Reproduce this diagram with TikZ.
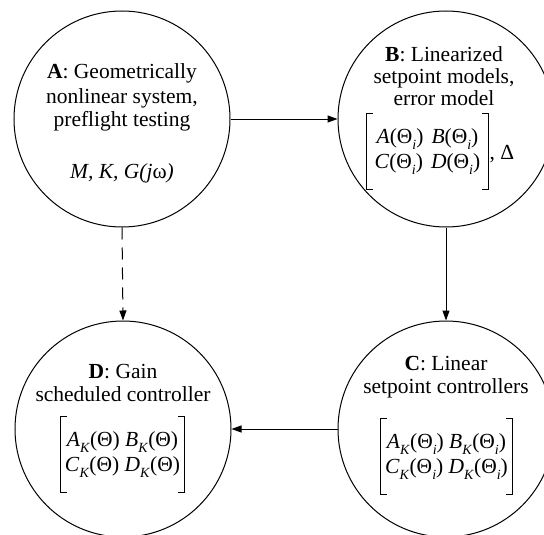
\documentclass[tikz,border=0pt]{standalone}
\usepackage{fontspec}
\setmainfont{Liberation Serif}
\usetikzlibrary{arrows.meta}
\newcommand\sbx[1]{\raisebox{-0.28em}{\fontsize{14}{14}\selectfont\textit{#1}}}
\begin{document}
\begin{tikzpicture}[x=1pt,y=-1pt,
  every node/.style={font=\fontsize{21.5}{24}\selectfont, inner sep=0pt},
  stage/.style={circle, draw, line width=1pt, minimum size=216pt, inner sep=0pt},
  txt/.style={anchor=base, inner sep=0pt},
  mat/.style={align=center, inner xsep=4pt, inner ysep=0pt, minimum height=76pt,
              font=\fontsize{21.5}{25}\selectfont},
  brk/.style={line width=0.9pt},
  flow/.style={line width=1pt, -{Triangle[length=10pt,width=7pt]}},
  dflow/.style={flow, dash pattern=on 12pt off 8pt}]
\useasboundingbox (0,0) rectangle (544,535);
\clip (0,0) rectangle (544,535);

% circles
\node[stage] (A) at (122,119) {};
\node[stage] (B) at (446,119) {};
\node[stage] (D) at (123,429) {};
\node[stage] (C) at (446,429) {};

% A text
\node[txt] (a1) at (122,79) {\textbf{A}: Geometrically};
\node[txt] (a2) at (122,103) {nonlinear system,};
\node[txt] (a3) at (122,127) {preflight testing};
\node[txt] (a4) at (122,178) {\textit{M, K, G(j}ω\textit{)}};

% B text
\node[txt] (b1) at (444,62) {\textbf{B}: Linearized};
\node[txt] (b2) at (444,84) {setpoint models,};
\node[txt] (b3) at (444,106) {error model};
\node[mat, inner xsep=8pt] (mB) at (427.5,151.5) {\textit{A}(Θ\sbx{i})\hspace{8pt}\textit{B}(Θ\sbx{i})\\\textit{C}(Θ\sbx{i})\hspace{8pt}\textit{D}(Θ\sbx{i})};
\node[anchor=west, xshift=1pt, yshift=-3pt] (dB) at (mB.east) {, Δ};

% D text
\node[txt] (d1) at (123,378) {\textbf{D}: Gain};
\node[txt] (d2) at (123,401) {scheduled controller};
\node[mat] (mD) at (122.5,454.5) {\textit{A}\sbx{K}(Θ) \textit{B}\sbx{K}(Θ)\\\textit{C}\sbx{K}(Θ) \textit{D}\sbx{K}(Θ)};

% C text
\node[txt] (c1) at (446,370) {\textbf{C}: Linear};
\node[txt] (c2) at (446,393) {setpoint controllers};
\node[mat] (mC) at (446.5,456.5) {\textit{A}\sbx{K}(Θ\sbx{i}) \textit{B}\sbx{K}(Θ\sbx{i})\\\textit{C}\sbx{K}(Θ\sbx{i}) \textit{D}\sbx{K}(Θ\sbx{i})};

% brackets
\foreach \m in {mB,mD,mC}{
  \draw[brk] ([xshift=6pt]\m.north west) -- (\m.north west) -- (\m.south west) -- ([xshift=6pt]\m.south west);
  \draw[brk] ([xshift=-6pt]\m.north east) -- (\m.north east) -- (\m.south east) -- ([xshift=-6pt]\m.south east);
}

% connectors
\draw[flow] (A.east) -- (B.west);
\draw[flow] (B.south) -- (C.north);
\draw[flow] (C.west) -- (D.east);
\draw[dflow] (A.south) -- (D.north);
\end{tikzpicture}
\end{document}
